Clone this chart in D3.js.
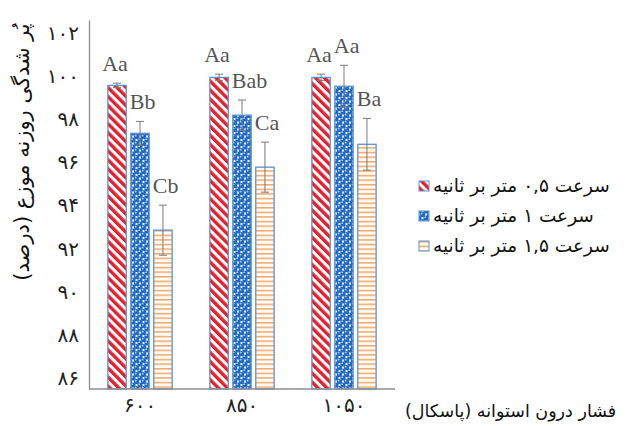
<!DOCTYPE html>
<html>
<head>
<meta charset="utf-8">
<script src="https://cdn.jsdelivr.net/npm/d3@7/dist/d3.min.js"></script>
<style>
  html, body { margin: 0; padding: 0; background: #fff; }
  svg { display: block; }
</style>
</head>
<body>
<svg id="chart" width="633" height="426"></svg>
<script>
// Cylinder pressure groups (Pa), shown with Persian digits
const categories = ["۶۰۰", "۸۵۰", "۱۰۵۰"];

// Air speed series
const seriesNames = [
  "سرعت ۰,۵ متر بر ثانیه",
  "سرعت ۱ متر بر ثانیه",
  "سرعت ۱,۵ متر بر ثانیه"
];

// Mean nozzle fill (%) per pressure group
const speed05 = [99.57, 99.94, 99.94];
const speed1  = [97.35, 98.19, 99.53];
const speed15 = [92.86, 95.78, 96.84];

// Standard error per bar
const err05 = [0.10, 0.15, 0.15];
const err1  = [0.55, 0.70, 0.97];
const err15 = [1.16, 1.16, 1.20];

// Significance letters per bar
const letters05 = ["Aa", "Aa", "Aa"];
const letters1  = ["Bb", "Bab", "Aa"];
const letters15 = ["Cb", "Ca", "Ba"];

// Y axis ticks
const yTicks = [86, 88, 90, 92, 94, 96, 98, 100, 102];

const yTitle = "پُر شدگی روزنه موزع (درصد)";
const xTitle = "فشار درون استوانه (پاسکال)";

const values = [speed05, speed1, speed15];
const errors = [err05, err1, err15];
const letters = [letters05, letters1, letters15];

const toFa = n => String(n).replace(/\d/g, d => "۰۱۲۳۴۵۶۷۸۹"[d]);

const svg = d3.select("#chart");

// ---- patterns ----
const defs = svg.append("defs");

const pStripe = defs.append("pattern")
  .attr("id", "pat0").attr("patternUnits", "userSpaceOnUse")
  .attr("width", 6.4).attr("height", 6.4)
  .attr("patternTransform", "rotate(-45)");
pStripe.append("rect").attr("width", 6.4).attr("height", 6.4).attr("fill", "#fff");
pStripe.append("rect").attr("width", 3.4).attr("height", 6.4).attr("fill", "#e3202b");

const pDots = defs.append("pattern")
  .attr("id", "pat1").attr("patternUnits", "userSpaceOnUse")
  .attr("width", 7).attr("height", 7);
pDots.append("rect").attr("width", 7).attr("height", 7).attr("fill", "#eef5fd");
[[0, 0], [7, 0], [0, 7], [7, 7], [3.5, 3.5]].forEach(([cx, cy]) => {
  pDots.append("circle").attr("cx", cx).attr("cy", cy).attr("r", 2.6).attr("fill", "#2068c0");
  pDots.append("circle").attr("cx", cx - 0.8).attr("cy", cy - 0.8).attr("r", 0.9).attr("fill", "#a4c9ef");
});

const pHoriz = defs.append("pattern")
  .attr("id", "pat2").attr("patternUnits", "userSpaceOnUse")
  .attr("width", 6).attr("height", 4.6);
pHoriz.append("rect").attr("width", 6).attr("height", 4.6).attr("fill", "#fffaf4");
pHoriz.append("rect").attr("y", 0).attr("width", 6).attr("height", 1.5).attr("fill", "#f2a86a");

const fills = ["url(#pat0)", "url(#pat1)", "url(#pat2)"];
const barStroke = "#5b93d6";

// ---- scales ----
const plot = { left: 89, right: 395, top: 20, bottom: 389 };

const x0 = d3.scaleBand()
  .domain(categories)
  .range([plot.left, plot.right])
  .paddingInner(0.37)
  .paddingOuter(0.185);

const x1 = d3.scaleBand()
  .domain(d3.range(seriesNames.length))
  .range([0, x0.bandwidth()])
  .paddingInner(0.2)
  .paddingOuter(0);

const y = d3.scaleLinear()
  .domain([85.5, 102.6])
  .range([plot.bottom, plot.top]);

// ---- axes ----
const yAxis = svg.append("g")
  .attr("transform", `translate(${plot.left},0)`)
  .call(d3.axisLeft(y).tickValues(yTicks).tickSize(0).tickPadding(10).tickFormat(toFa));
yAxis.select(".domain").attr("stroke", "#8c8c8c").attr("stroke-width", 1.3);
yAxis.selectAll("text")
  .attr("font-family", "DejaVu Sans")
  .attr("font-size", 20)
  .attr("fill", "#222");

// ---- bars ----
const rows = [];
categories.forEach((c, ci) => {
  seriesNames.forEach((s, si) => {
    rows.push({ c, ci, si, v: values[si][ci], e: errors[si][ci], t: letters[si][ci] });
  });
});

const g = svg.append("g");

g.selectAll("rect.bar").data(rows).join("rect")
  .attr("class", "bar")
  .attr("x", d => x0(d.c) + x1(d.si))
  .attr("y", d => y(d.v))
  .attr("width", x1.bandwidth())
  .attr("height", d => y.range()[0] - y(d.v))
  .attr("fill", d => fills[d.si])
  .attr("stroke", barStroke)
  .attr("stroke-width", 1.3);

// error bars
const cx = d => x0(d.c) + x1(d.si) + x1.bandwidth() / 2;
const eg = g.selectAll("g.err").data(rows).join("g").attr("class", "err")
  .attr("stroke", "#7a7a7a").attr("stroke-width", 1);
eg.append("line")
  .attr("x1", cx).attr("x2", cx)
  .attr("y1", d => y(d.v + d.e)).attr("y2", d => y(d.v - d.e));
eg.append("line")
  .attr("x1", d => cx(d) - 4).attr("x2", d => cx(d) + 4)
  .attr("y1", d => y(d.v + d.e)).attr("y2", d => y(d.v + d.e));
eg.append("line")
  .attr("x1", d => cx(d) - 4).attr("x2", d => cx(d) + 4)
  .attr("y1", d => y(d.v - d.e)).attr("y2", d => y(d.v - d.e));

// significance letters
g.selectAll("text.sig").data(rows).join("text")
  .attr("class", "sig")
  .attr("x", d => d.si === 0 ? cx(d) - 2 : x0(d.c) + x1(d.si) - 1)
  .attr("y", d => y(d.v + d.e) - 12)
  .attr("text-anchor", d => d.si === 0 ? "middle" : "start")
  .attr("font-family", "Liberation Serif")
  .attr("font-size", 22)
  .attr("fill", "#555")
  .text(d => d.t);

// x axis
const xAxis = svg.append("g")
  .attr("transform", `translate(0,${plot.bottom})`)
  .call(d3.axisBottom(x0).tickSize(0).tickPadding(9));
xAxis.select(".domain").attr("stroke", "#8c8c8c").attr("stroke-width", 1.3)
  .attr("d", `M${plot.left},0H${plot.right}`);
xAxis.selectAll("text")
  .attr("font-family", "DejaVu Sans")
  .attr("font-size", 20)
  .attr("fill", "#222");

// axis titles
svg.append("text")
  .attr("transform", `translate(29,152) rotate(-90)`)
  .attr("text-anchor", "middle")
  .attr("direction", "rtl")
  .attr("font-family", "DejaVu Sans")
  .attr("font-size", 21)
  .attr("fill", "#111")
  .text(yTitle);

svg.append("text")
  .attr("x", 405).attr("y", 417)
  .attr("direction", "rtl")
  .attr("text-anchor", "end")
  .attr("font-family", "DejaVu Sans")
  .attr("font-size", 17.5)
  .attr("fill", "#111")
  .text(xTitle);

// legend
const lg = svg.append("g").selectAll("g").data(seriesNames).join("g")
  .attr("transform", (d, i) => `translate(419,${181 + i * 30})`);
lg.append("rect")
  .attr("width", 10).attr("height", 10)
  .attr("fill", (d, i) => fills[i])
  .attr("stroke", barStroke).attr("stroke-width", 1);
lg.append("text")
  .attr("x", 14).attr("y", 11)
  .attr("direction", "rtl")
  .attr("text-anchor", "end")
  .attr("font-family", "DejaVu Sans")
  .attr("font-size", 18.5)
  .attr("fill", "#111")
  .text(d => d);
</script>
</body>
</html>
